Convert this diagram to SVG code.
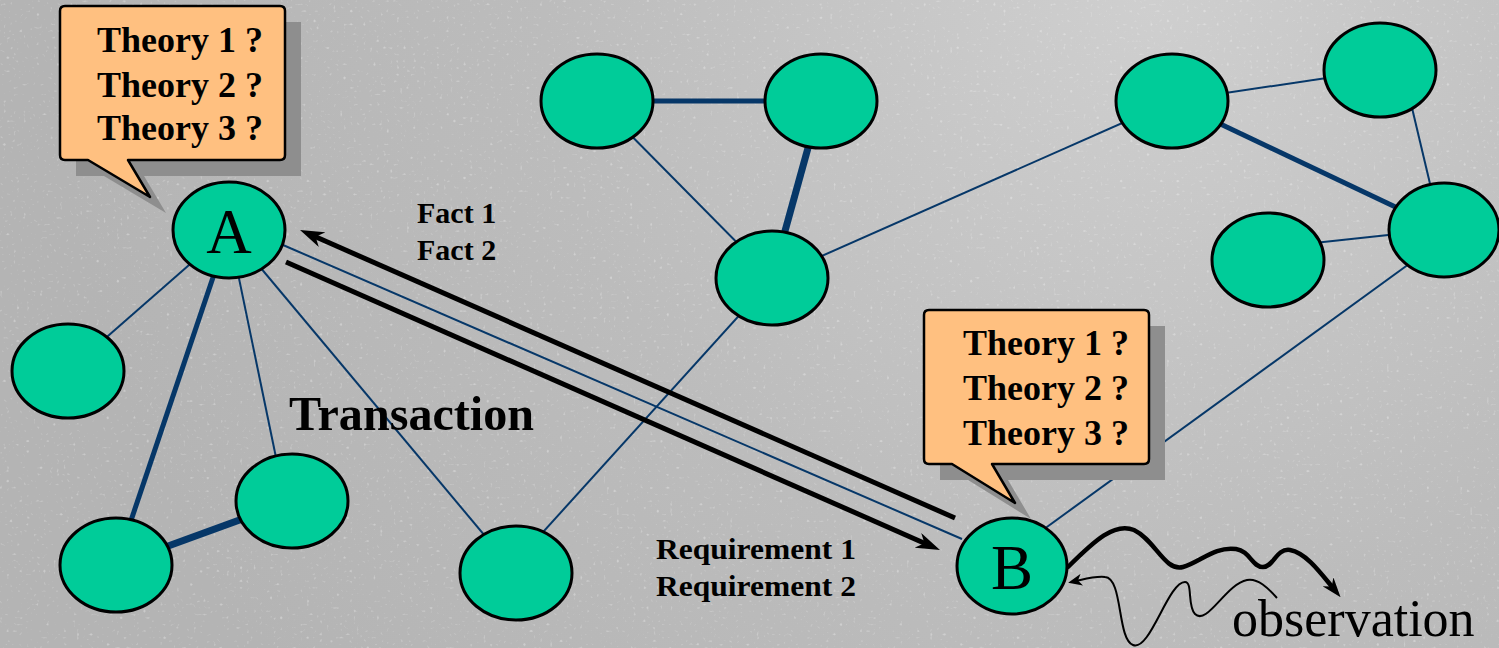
<svg xmlns="http://www.w3.org/2000/svg" width="1499" height="648" viewBox="0 0 1499 648">
  <style>
    .node { fill: #00CC99; stroke: #000; stroke-width: 3; }
    .edge { stroke: #063768; stroke-width: 2; fill: none; }
    .thick { stroke-width: 5; }
    .thicker { stroke-width: 7; }
    .bigarrow { stroke: #000; stroke-width: 5; fill: none; }
    .callout { fill: #FFC080; stroke: #000; stroke-width: 2.5; stroke-linejoin: round; }
    .shadow { fill: #8E8E8E; }
    .lbl { font-family: "Liberation Serif", "Times New Roman", serif; font-weight: bold; fill: #000; }
    .theory { font-size: 36px; }
    .small { font-size: 30px; }
    .letter { font-family: "Liberation Serif", "Times New Roman", serif; font-size: 63px; text-anchor: middle; fill: #000; }
  </style>
  <defs>
    <radialGradient id="bg" cx="1150" cy="0" r="1100" gradientUnits="userSpaceOnUse">
      <stop offset="0" stop-color="#CFCFCF"/>
      <stop offset="0.55" stop-color="#BCBCBC"/>
      <stop offset="1" stop-color="#B4B4B4"/>
    </radialGradient>
    <filter id="noise" x="0" y="0" width="100%" height="100%">
      <feTurbulence type="fractalNoise" baseFrequency="0.3" numOctaves="1" seed="11"/>
      <feColorMatrix type="matrix" values="0 0 0 0 1  0 0 0 0 1  0 0 0 0 1  6 0 0 0 -3.9"/>
    </filter>
    <marker id="bigHead" viewBox="0 0 24 16" refX="12" refY="8" markerWidth="24" markerHeight="16" markerUnits="userSpaceOnUse" orient="auto">
      <path d="M0,0 L24,8 L0,16 L7,8 z" fill="#000"/>
    </marker>
    <marker id="waveHead" viewBox="0 0 20 14" refX="8" refY="7" markerWidth="20" markerHeight="14" markerUnits="userSpaceOnUse" orient="auto">
      <path d="M0,0 L20,7 L0,14 L6,7 z" fill="#000"/>
    </marker>
    <marker id="thinHead" viewBox="0 0 14 12" refX="6" refY="6" markerWidth="14" markerHeight="12" markerUnits="userSpaceOnUse" orient="auto">
      <path d="M0,0 L14,6 L0,12 L4,6 z" fill="#000"/>
    </marker>
  </defs>

  <rect x="0" y="0" width="1499" height="648" fill="url(#bg)"/>
  <rect x="0" y="0" width="1499" height="648" filter="url(#noise)" opacity="0.3"/>

  <g id="connectors">
    <line class="edge" x1="229" y1="230" x2="68" y2="371"/>
    <line class="edge thick" x1="229" y1="230" x2="116" y2="565"/>
    <line class="edge" x1="229" y1="230" x2="285" y2="501"/>
    <line class="edge" x1="229" y1="230" x2="516" y2="573"/>
    <line class="edge" x1="283" y1="245" x2="962" y2="539"/>
    <line class="edge thicker" x1="116" y1="565" x2="292" y2="501"/>
    <line class="edge" x1="506" y1="573" x2="773" y2="278"/>
    <line class="edge thick" x1="597" y1="101" x2="821" y2="101"/>
    <line class="edge" x1="597" y1="101" x2="772" y2="278"/>
    <line class="edge thicker" x1="821" y1="101" x2="772" y2="278"/>
    <line class="edge" x1="772" y1="278" x2="1172" y2="101"/>
    <line class="edge" x1="1172" y1="101" x2="1380" y2="70"/>
    <line class="edge thick" x1="1172" y1="101" x2="1444" y2="230"/>
    <line class="edge" x1="1403" y1="70" x2="1441" y2="230"/>
    <line class="edge" x1="1268" y1="248" x2="1444" y2="229"/>
    <line class="edge" x1="1420" y1="256" x2="1040" y2="532"/>

    <line class="bigarrow" x1="955" y1="518" x2="311" y2="234.8" marker-end="url(#bigHead)"/>
    <line class="bigarrow" x1="286" y1="262" x2="929" y2="545.2" marker-end="url(#bigHead)"/>

    <path d="M1068,567 C1095,540 1115,522 1134,530 C1155,540 1165,572 1183,567 C1200,562 1215,546 1236,549 C1250,551 1252,567 1263,567 C1274,567 1276,548 1290,550 C1306,553 1320,572 1333,588" fill="none" stroke="#000" stroke-width="4.5" stroke-linecap="round" marker-end="url(#waveHead)"/>
    <path d="M1277,598 C1268,588 1258,578 1247,580 C1226,584 1207,626 1195,614 C1187,606 1193,582 1185,582 C1168,582 1150,652 1133,645 C1117,639 1123,578 1105,577 C1095,576 1085,579 1076,581" fill="none" stroke="#000" stroke-width="2" marker-end="url(#thinHead)"/>
  </g>

  <g id="nodeA">
    <ellipse class="node" cx="229" cy="230" rx="56" ry="48"/>
    <text class="letter" x="229" y="253">A</text>
  </g>
  <g id="nodeB">
    <ellipse class="node" cx="1012" cy="566" rx="55" ry="48"/>
    <text class="letter" x="1012" y="589">B</text>
  </g>
  <g id="node-left"><ellipse class="node" cx="68" cy="371" rx="56" ry="47"/></g>
  <g id="node-bottom-left"><ellipse class="node" cx="116" cy="565" rx="56" ry="47"/></g>
  <g id="node-mid-left"><ellipse class="node" cx="292" cy="501" rx="56" ry="47"/></g>
  <g id="node-bottom-mid"><ellipse class="node" cx="516" cy="573" rx="56" ry="47"/></g>
  <g id="node-top-1"><ellipse class="node" cx="597" cy="101" rx="56" ry="47"/></g>
  <g id="node-top-2"><ellipse class="node" cx="821" cy="101" rx="56" ry="47"/></g>
  <g id="node-center"><ellipse class="node" cx="772" cy="278" rx="56" ry="47"/></g>
  <g id="node-right-1"><ellipse class="node" cx="1172" cy="101" rx="56" ry="47"/></g>
  <g id="node-right-2"><ellipse class="node" cx="1380" cy="70" rx="56" ry="47"/></g>
  <g id="node-right-3"><ellipse class="node" cx="1444" cy="230" rx="55" ry="47"/></g>
  <g id="node-right-4"><ellipse class="node" cx="1268" cy="260" rx="56" ry="47"/></g>

  <g id="calloutA">
    <path class="shadow" d="M76,22 H301 V176 H144 L166,213 L104,176 H76 Z"/>
    <path class="callout" d="M65,6 H280 Q285,6 285,11 V155 Q285,160 280,160 H128 L150,197 L88,160 H65 Q60,160 60,155 V11 Q60,6 65,6 Z"/>
    <text class="lbl theory" x="97" y="52">Theory 1 ?</text>
    <text class="lbl theory" x="97" y="97">Theory 2 ?</text>
    <text class="lbl theory" x="97" y="140">Theory 3 ?</text>
  </g>

  <g id="calloutB">
    <path class="shadow" d="M940,326 H1165 V480 H1008 L1031,519 L968,480 H940 Z"/>
    <path class="callout" d="M929,310 H1144 Q1149,310 1149,315 V459 Q1149,464 1144,464 H992 L1015,503 L952,464 H929 Q924,464 924,459 V315 Q924,310 929,310 Z"/>
    <text class="lbl theory" x="963" y="355">Theory 1 ?</text>
    <text class="lbl theory" x="963" y="400">Theory 2 ?</text>
    <text class="lbl theory" x="963" y="445">Theory 3 ?</text>
  </g>

  <g id="labels">
    <text class="lbl small" x="417" y="223">Fact 1</text>
    <text class="lbl small" x="417" y="260">Fact 2</text>
    <text class="lbl" x="289" y="430" font-size="48" textLength="245" lengthAdjust="spacingAndGlyphs">Transaction</text>
    <text class="lbl small" x="656" y="559" textLength="200" lengthAdjust="spacingAndGlyphs">Requirement 1</text>
    <text class="lbl small" x="656" y="596" textLength="200" lengthAdjust="spacingAndGlyphs">Requirement 2</text>
    <text x="1232" y="636" font-family="Liberation Serif, Times New Roman, serif" font-size="52" fill="#000">observation</text>
  </g>
</svg>
